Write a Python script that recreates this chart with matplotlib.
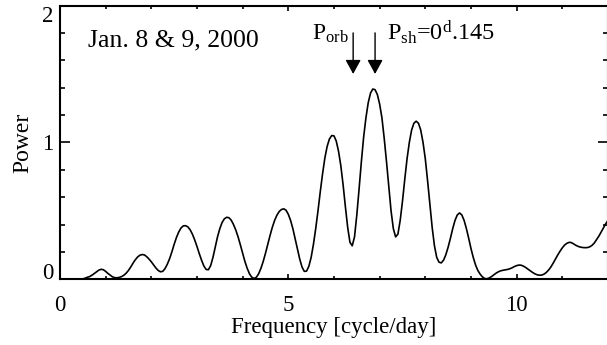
import matplotlib
matplotlib.use("Agg")
import matplotlib.pyplot as plt
from matplotlib.ticker import MultipleLocator

plt.rcParams["font.family"] = ["Liberation Serif", "DejaVu Serif"]
plt.rcParams["mathtext.fontset"] = "custom"
plt.rcParams["mathtext.rm"] = "Liberation Serif"
plt.rcParams["mathtext.it"] = "Liberation Serif:italic"

# power spectrum, Jan. 8 & 9 2000 (frequency in cycle/day)
freq = [0.0, 0.05, 0.1, 0.15, 0.2, 0.25, 0.3, 0.35, 0.4, 0.45,
        0.5, 0.55, 0.6, 0.65, 0.7, 0.75, 0.8, 0.85, 0.9, 0.95,
        1.0, 1.05, 1.1, 1.15, 1.2, 1.25, 1.3, 1.35, 1.4, 1.45,
        1.5, 1.55, 1.6, 1.65, 1.7, 1.75, 1.8, 1.85, 1.9, 1.95,
        2.0, 2.05, 2.1, 2.15, 2.2, 2.25, 2.3, 2.35, 2.4, 2.45,
        2.5, 2.55, 2.6, 2.65, 2.7, 2.75, 2.8, 2.85, 2.9, 2.95,
        3.0, 3.05, 3.1, 3.15, 3.2, 3.25, 3.3, 3.35, 3.4, 3.45,
        3.5, 3.55, 3.6, 3.65, 3.7, 3.75, 3.8, 3.85, 3.9, 3.95,
        4.0, 4.05, 4.1, 4.15, 4.2, 4.25, 4.3, 4.35, 4.4, 4.45,
        4.5, 4.55, 4.6, 4.65, 4.7, 4.75, 4.8, 4.85, 4.9, 4.95,
        5.0, 5.05, 5.1, 5.15, 5.2, 5.25, 5.3, 5.35, 5.4, 5.45,
        5.5, 5.55, 5.6, 5.65, 5.7, 5.75, 5.8, 5.85, 5.9, 5.95,
        6.0, 6.05, 6.1, 6.15, 6.2, 6.25, 6.3, 6.35, 6.4, 6.45,
        6.5, 6.55, 6.6, 6.65, 6.7, 6.75, 6.8, 6.85, 6.9, 6.95,
        7.0, 7.05, 7.1, 7.15, 7.2, 7.25, 7.3, 7.35, 7.4, 7.45,
        7.5, 7.55, 7.6, 7.65, 7.7, 7.75, 7.8, 7.85, 7.9, 7.95,
        8.0, 8.05, 8.1, 8.15, 8.2, 8.25, 8.3, 8.35, 8.4, 8.45,
        8.5, 8.55, 8.6, 8.65, 8.7, 8.75, 8.8, 8.85, 8.9, 8.95,
        9.0, 9.05, 9.1, 9.15, 9.2, 9.25, 9.3, 9.35, 9.4, 9.45,
        9.5, 9.55, 9.6, 9.65, 9.7, 9.75, 9.8, 9.85, 9.9, 9.95,
        10.0, 10.05, 10.1, 10.15, 10.2, 10.25, 10.3, 10.35, 10.4, 10.45,
        10.5, 10.55, 10.6, 10.65, 10.7, 10.75, 10.8, 10.85, 10.9, 10.95,
        11.0, 11.05, 11.1, 11.15, 11.2, 11.25, 11.3, 11.35, 11.4, 11.45,
        11.5, 11.55, 11.6, 11.65, 11.7, 11.75, 11.8, 11.85, 11.9, 11.95,
        12.0]
power = [0.0, 0.0, 0.0, 0.0, 0.0, 0.0, 0.0, 0.0, 0.0, 0.0,
         0.003, 0.008, 0.015, 0.02, 0.03, 0.042, 0.055, 0.067, 0.073, 0.07,
         0.058, 0.043, 0.03, 0.018, 0.012, 0.011, 0.014, 0.02, 0.03, 0.045,
         0.065, 0.09, 0.118, 0.143, 0.163, 0.176, 0.181, 0.178, 0.165, 0.148,
         0.128, 0.105, 0.083, 0.065, 0.055, 0.058, 0.078, 0.11, 0.15, 0.2,
         0.255, 0.305, 0.345, 0.375, 0.39, 0.392, 0.383, 0.362, 0.33, 0.288,
         0.24, 0.188, 0.14, 0.098, 0.072, 0.07, 0.1, 0.16, 0.235, 0.31,
         0.37, 0.415, 0.442, 0.453, 0.45, 0.432, 0.4, 0.36, 0.31, 0.252,
         0.19, 0.13, 0.08, 0.04, 0.015, 0.006, 0.015, 0.04, 0.08, 0.13,
         0.19, 0.255, 0.32, 0.38, 0.43, 0.468, 0.495, 0.51, 0.515, 0.505,
         0.475, 0.43, 0.37, 0.295, 0.22, 0.148, 0.09, 0.058, 0.06, 0.095,
         0.16, 0.255, 0.37, 0.5, 0.64, 0.77, 0.885, 0.97, 1.025, 1.05,
         1.048, 1.01, 0.935, 0.83, 0.69, 0.53, 0.38, 0.27, 0.245, 0.31,
         0.47, 0.66, 0.86, 1.04, 1.18, 1.29, 1.36, 1.39, 1.385, 1.35,
         1.28, 1.18, 1.03, 0.86, 0.68, 0.5, 0.37, 0.31, 0.33, 0.43,
         0.57, 0.73, 0.88, 1.0, 1.09, 1.14, 1.155, 1.14, 1.09, 1.0,
         0.88, 0.72, 0.55, 0.38, 0.245, 0.16, 0.125, 0.12, 0.14, 0.18,
         0.235, 0.3, 0.37, 0.43, 0.47, 0.485, 0.47, 0.43, 0.37, 0.3,
         0.225, 0.16, 0.105, 0.065, 0.038, 0.018, 0.006, 0.004, 0.01, 0.02,
         0.033, 0.045, 0.055, 0.062, 0.066, 0.069, 0.072, 0.077, 0.084, 0.093,
         0.1, 0.104, 0.103, 0.096, 0.086, 0.074, 0.062, 0.05, 0.04, 0.033,
         0.03, 0.031, 0.038, 0.05, 0.068, 0.09, 0.118, 0.148, 0.178, 0.205,
         0.23, 0.25, 0.263, 0.27, 0.268, 0.258, 0.248, 0.24, 0.235, 0.232,
         0.231, 0.232, 0.237, 0.248, 0.265, 0.29, 0.315, 0.345, 0.375, 0.405,
         0.43]

f_orb = 6.42   # orbital frequency
f_sh = 6.90    # superhump frequency, P_sh = 0.145 d

fig = plt.figure(figsize=(6.07, 3.45), dpi=100)
ax = fig.add_axes([0.0988, 0.1904, 0.9028, 0.7936])

ax.plot(freq, power, color="black", lw=1.2)

ax.set_yticks([0, 1, 2])
ax.set_xlim(0, 12)
ax.set_ylim(0, 2)
ax.xaxis.set_major_locator(MultipleLocator(5))
ax.xaxis.set_minor_locator(MultipleLocator(1))
ax.yaxis.set_minor_locator(MultipleLocator(0.2))
ax.tick_params(axis="both", which="both", direction="in", top=True, right=True,
               width=1.2, labelsize=16.5)
ax.tick_params(axis="x", which="major", length=3.8, pad=11)
ax.tick_params(axis="x", which="minor", length=2)
ax.tick_params(axis="y", which="major", length=7.2, pad=5)
ax.tick_params(axis="y", which="minor", length=3.6)
for s in ax.spines.values():
    s.set_linewidth(1.5)

# keep the end labels of the y axis inside the frame height
for tick, loc in zip(ax.yaxis.get_major_ticks(), ax.yaxis.get_majorticklocs()):
    if loc == 0:
        tick.label1.set_va("baseline")
    elif loc == 2:
        tick.label1.set_va("top")

ax.set_xlabel("Frequency [cycle/day]", fontsize=16.5, labelpad=1)
ax.set_ylabel("Power", fontsize=17, labelpad=6)

ax.text(0.61, 1.70, "Jan. 8 & 9, 2000", fontsize=18.5, va="baseline")

for f in (f_orb, f_sh):
    ax.annotate("", xy=(f, 1.50), xytext=(f, 1.80),
                arrowprops=dict(arrowstyle="-|>,head_length=8.6,head_width=4.7",
                                mutation_scale=1, color="black", lw=1,
                                shrinkA=0, shrinkB=0))
ax.text(5.52, 1.747, r"P$_{\rm orb}$", fontsize=17, va="baseline")
ax.text(7.16, 1.747, r"P$_{\rm sh}$=0$^{\rm d}$.145", fontsize=17.5, va="baseline")

fig.savefig("out.png", dpi=100)
